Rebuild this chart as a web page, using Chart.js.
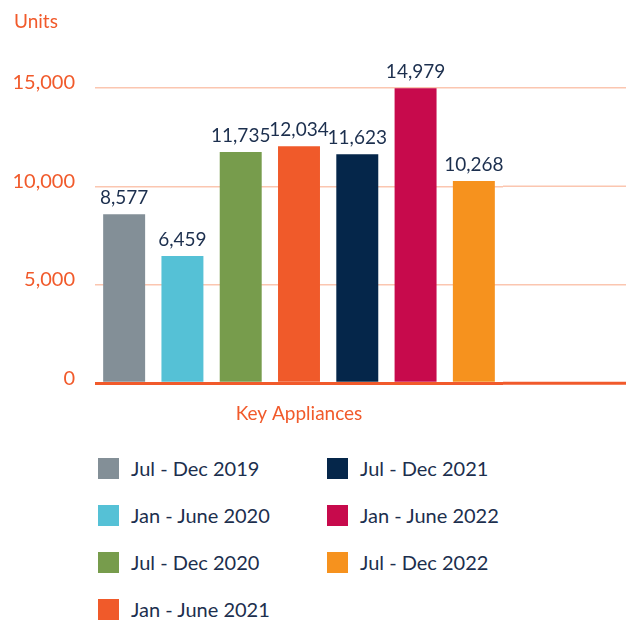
<!DOCTYPE html>
<html>
<head>
<meta charset="utf-8">
<script src="https://cdn.jsdelivr.net/npm/chart.js@4.4.1/dist/chart.umd.min.js"></script>
<style>
  body { margin: 0; background: #fff; font-family: Lato, "Noto Sans", sans-serif; }
  .wrap { position: relative; width: 626px; height: 621px; }
  .chart-box { position: absolute; left: 0; top: 0; width: 626px; height: 429px; }
  .legend {
    position: absolute; left: 98px; top: 458px;
    display: grid; grid-template-columns: 229px 229px; grid-auto-flow: column;
    grid-template-rows: repeat(4, 47px);
  }
  .legend-item { display: flex; align-items: flex-start; font-size: 20px; color: #1c2f4e; }
  .legend-item span.sw { width: 21px; height: 21px; margin-right: 12px; flex-shrink: 0; }
  .legend-item span.tx { line-height: 21px; }
</style>
</head>
<body>
<div class="wrap">
  <div class="chart-box"><canvas id="barChart"></canvas></div>
  <div class="legend" id="barLegend"></div>
</div>
<script>
// Half-year periods and units sold
const periods = ['Jul - Dec 2019', 'Jan - June 2020', 'Jul - Dec 2020', 'Jan - June 2021',
                 'Jul - Dec 2021', 'Jan - June 2022', 'Jul - Dec 2022'];
const units = [8577, 6459, 11735, 12034, 11623, 14979, 10268];
const barColors = ['#838f97', '#55c1d6', '#779c4c', '#f05a2a', '#05264a', '#c70a4c', '#f6921e'];
const yTicks = [0, 5000, 10000, 15000];

const ORANGE = '#f15a2b';
const NAVY = '#1c2f4e';
const GRID = '#fbc6b0';
const FONT = 'Lato, "Noto Sans", sans-serif';

// stretch the horizontal grid lines out to the right edge of the canvas
const gridExtend = {
  id: 'gridExtend',
  beforeDatasetsDraw(chart) {
    const { ctx, chartArea, scales } = chart;
    ctx.save();
    yTicks.forEach(v => {
      const y = scales.y.getPixelForValue(v);
      ctx.beginPath();
      ctx.strokeStyle = v === 0 ? ORANGE : GRID;
      ctx.lineWidth = v === 0 ? 3 : 1.5;
      ctx.moveTo(chartArea.right, y);
      ctx.lineTo(chart.width, y);
      ctx.stroke();
    });
    ctx.restore();
  }
};

// value above each bar
const valueLabels = {
  id: 'valueLabels',
  afterDatasetsDraw(chart) {
    const { ctx } = chart;
    const meta = chart.getDatasetMeta(0);
    ctx.save();
    ctx.font = '19px ' + FONT;
    ctx.fillStyle = NAVY;
    ctx.textAlign = 'center';
    ctx.textBaseline = 'bottom';
    meta.data.forEach((bar, i) => {
      ctx.fillText(units[i].toLocaleString('en-US'), bar.x, bar.y - 7);
    });
    ctx.restore();
  }
};

new Chart(document.getElementById('barChart'), {
  type: 'bar',
  data: {
    labels: periods,
    datasets: [{ data: units, backgroundColor: barColors, barPercentage: 0.72, categoryPercentage: 1 }]
  },
  options: {
    responsive: true,
    maintainAspectRatio: false,
    animation: false,
    layout: { padding: { left: 14, right: 123, top: 0, bottom: 0 } },
    plugins: {
      legend: { display: false },
      tooltip: { enabled: false },
      title: {
        display: true, text: 'Units', align: 'start', color: ORANGE,
        font: { family: FONT, size: 19, weight: 'normal' },
        padding: { top: 10, bottom: 55 }
      }
    },
    scales: {
      x: {
        ticks: { display: false },
        grid: { display: false },
        border: { display: false },
        title: {
          display: true, text: 'Key Appliances', color: ORANGE,
          font: { family: FONT, size: 19 },
          padding: { top: 11, bottom: 4 }
        }
      },
      y: {
        min: 0, max: 15000,
        afterBuildTicks: axis => { axis.ticks = yTicks.map(v => ({ value: v })); },
        afterFit: axis => { axis.width = 81; },
        ticks: {
          color: ORANGE, padding: 20, labelOffset: -5,
          font: { family: FONT, size: 20 },
          callback: v => v.toLocaleString('en-US')
        },
        grid: {
          drawTicks: false,
          color: c => c.tick.value === 0 ? ORANGE : GRID,
          lineWidth: c => c.tick.value === 0 ? 3 : 1.5
        },
        border: { display: false }
      }
    }
  },
  plugins: [gridExtend, valueLabels]
});

// two-column legend, filled top to bottom
document.getElementById('barLegend').innerHTML = periods.map((p, i) => `
  <div class="legend-item"><span class="sw" style="background:${barColors[i]}"></span><span class="tx">${p}</span></div>
`).join('');
</script>
</body>
</html>
